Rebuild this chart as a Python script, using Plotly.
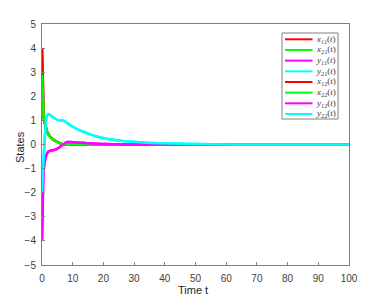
import plotly.graph_objects as go

# time samples
t_fast = [0, 0.3, 0.6, 1.0, 1.5, 2.0, 2.6, 3.5, 4.8, 6.0, 7.0, 10, 20, 40, 60, 80, 100]
x11 = [4.0, 2.5, 1.05, 0.85, 0.6, 0.45, 0.33, 0.22, 0.12, 0.05, 0.0, 0.0, 0.0, 0.0, 0.0, 0.0, 0.0]
x21 = [2.9, 2.0, 1.05, 0.85, 0.6, 0.45, 0.33, 0.22, 0.12, 0.05, 0.0, 0.0, 0.0, 0.0, 0.0, 0.0, 0.0]

t_y = [0, 0.2, 0.4, 0.7, 1.0, 1.5, 2.0, 2.5, 3.0, 4.2, 5.0, 5.9, 6.9, 8.0, 9.1, 11.2, 13, 15, 17.8, 21, 25, 28.7, 33, 38, 45, 55, 70, 100]
y11 = [-4.0, -2.8, -1.5, -0.9, -0.64, -0.42, -0.3, -0.27, -0.25, -0.22, -0.17, -0.09, 0.0, 0.1, 0.1, 0.08, 0.07, 0.05, 0.03, 0.02, 0.01, 0.0, 0.0, 0.0, 0.0, 0.0, 0.0, 0.0]
y21 = [-2.0, -1.5, -0.9, -0.2, 0.47, 1.16, 1.26, 1.24, 1.18, 1.08, 1.02, 1.0, 0.99, 0.92, 0.81, 0.66, 0.55, 0.45, 0.33, 0.24, 0.17, 0.12, 0.08, 0.05, 0.03, 0.01, 0.0, 0.0]

x12 = x11
x22 = x21
y12 = y11
y22 = y21

names = ["<i>x</i><sub>11</sub>(<i>t</i>)", "<i>x</i><sub>21</sub>(<i>t</i>)",
         "<i>y</i><sub>11</sub>(<i>t</i>)", "<i>y</i><sub>21</sub>(<i>t</i>)",
         "<i>x</i><sub>12</sub>(<i>t</i>)", "<i>x</i><sub>22</sub>(<i>t</i>)",
         "<i>y</i><sub>12</sub>(<i>t</i>)", "<i>y</i><sub>22</sub>(<i>t</i>)"]
colors = ["#ff0000", "#00ff00", "#ff00ff", "#00ffff"] * 2
series = [(t_fast, x11), (t_fast, x21), (t_y, y11), (t_y, y21),
          (t_fast, x12), (t_fast, x22), (t_y, y12), (t_y, y22)]

x_ticks = list(range(0, 101, 10))
y_ticks = list(range(-5, 6, 1))
x_title = "Time t"
y_title = "States"

fig = go.Figure()
for (tt, yy), nm, c in zip(series, names, colors):
    fig.add_trace(go.Scatter(x=tt, y=yy, mode="lines", name=nm, showlegend=False,
                             line=dict(color=c, width=2.5, shape="spline", smoothing=0.6)))

axis_common = dict(showline=True, linecolor="#7f7f7f", linewidth=1, mirror=True,
                   ticks="inside", ticklen=3, tickcolor="#7f7f7f", showgrid=False,
                   zeroline=False, automargin=False,
                   tickfont=dict(family="Liberation Sans, Arial", size=10, color="#404040"))

# layout geometry (page body adds an 8px offset)
W, H = 357, 291
L, R, T, B = 34, 16, 16, 34
pw, ph = W - L - R, H - T - B
def px(x):
    return (x - 8 - L) / pw
def py(y):
    return 1 - (y - 8 - T) / ph

# Custom compact legend (MATLAB style)
shapes = [dict(type="rect", xref="paper", yref="paper", x0=px(282), x1=px(338), y0=py(119), y1=py(33),
               line=dict(color="#7f7f7f", width=1), fillcolor="white", layer="above")]
annotations = []
for i, (nm, c) in enumerate(zip(names, colors)):
    yc = 39.3 + i * 10.67
    shapes.append(dict(type="line", xref="paper", yref="paper", x0=px(285), x1=px(312.5),
                       y0=py(yc), y1=py(yc), line=dict(color=c, width=2), layer="above"))
    annotations.append(dict(xref="paper", yref="paper", x=px(313.5), y=py(yc), text=nm, showarrow=False,
                            xanchor="left", yanchor="middle",
                            font=dict(family="Liberation Serif, Times New Roman", size=9, color="#404040")))

title_font = dict(family="Liberation Sans, Arial", size=11, color="#262626")
annotations.append(dict(xref="paper", yref="paper", x=px(193), y=py(290), text=x_title, showarrow=False,
                        xanchor="center", yanchor="middle", font=title_font))
annotations.append(dict(xref="paper", yref="paper", x=px(20), y=py(147), text=y_title, showarrow=False,
                        textangle=-90, xanchor="center", yanchor="middle", font=title_font))

fig.update_layout(
    width=W, height=H,
    margin=dict(l=L, r=R, t=T, b=B),
    paper_bgcolor="white", plot_bgcolor="white",
    xaxis=dict(range=[0, 100], tickvals=x_ticks, ticklabelstandoff=4, **axis_common),
    yaxis=dict(range=[-5, 5], tickvals=y_ticks, ticklabelstandoff=3, **axis_common),
    shapes=shapes, annotations=annotations,
    showlegend=False,
)

fig.write_html("out.html")
